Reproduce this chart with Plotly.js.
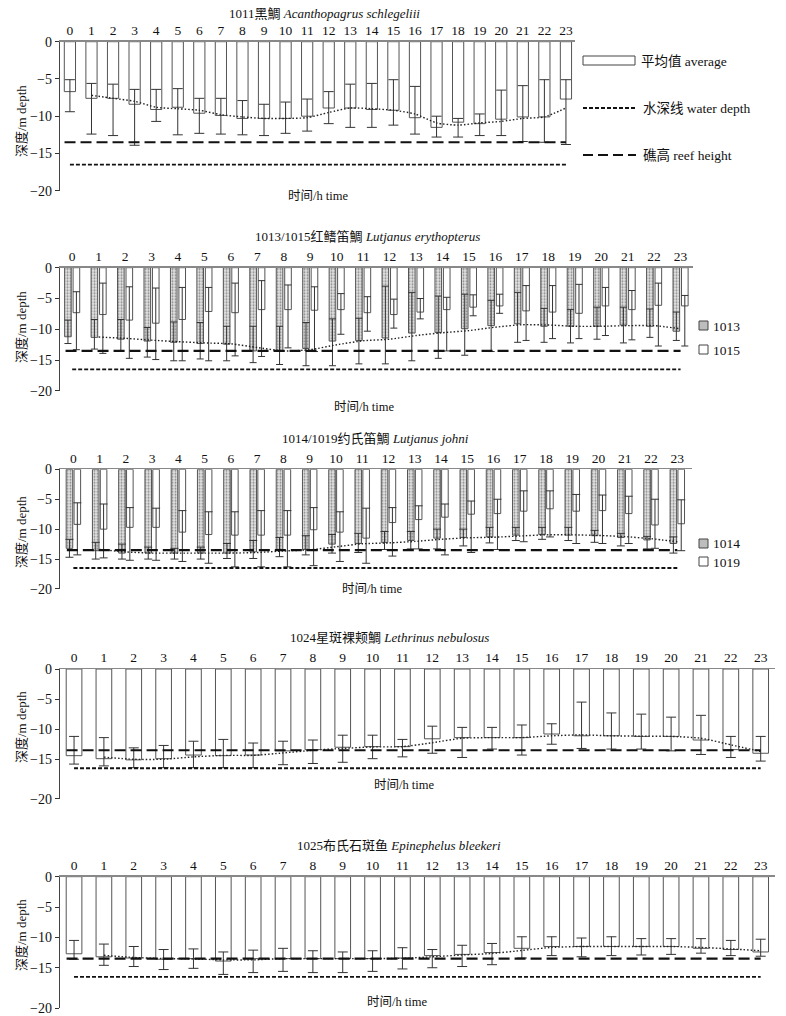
<!DOCTYPE html>
<html><head><meta charset="utf-8">
<script src="https://cdn.plot.ly/plotly-3.0.1.min.js"></script>
<style>html,body{margin:0;padding:0;background:#fff}</style>
</head><body><div id="chart" style="width:786px;height:1016px"></div>
<script>
// ---------------- data ----------------
const hours = [0,1,2,3,4,5,6,7,8,9,10,11,12,13,14,15,16,17,18,19,20,21,22,23];
const hourLabels = ['0','1','2','3','4','5','6','7','8','9','10','11','12','13','14','15','16','17','18','19','20','21','22','23'];
const trendHours = [1,2,3,4,5,6,7,8,9,10,11,12,13,14,15,16,17,18,19,20,21,22,23];
const REEF = -13.5;   // 礁高 reef height
const WATER = -16.5;  // 水深线 water depth

// 1011
const mean1011 = [-6.7,-7.6,-7.6,-8.4,-9.1,-8.8,-9.6,-9.9,-10.3,-10.3,-10.3,-10.0,-8.9,-8.9,-9.1,-9.2,-10.2,-11.5,-10.8,-11.0,-10.4,-10.1,-10.1,-7.7];
const hi1011   = [-5.1,-5.6,-5.7,-6.4,-6.4,-6.3,-7.6,-7.6,-7.9,-8.4,-8.1,-7.7,-6.7,-5.7,-5.6,-5.1,-6.0,-10.0,-10.3,-9.7,-6.5,-5.9,-5.1,-5.1];
const lo1011   = [-9.4,-12.4,-12.6,-13.9,-10.7,-12.5,-12.3,-12.4,-12.5,-12.6,-12.3,-12.0,-11.0,-11.5,-11.5,-11.2,-12.4,-12.8,-12.8,-12.6,-12.6,-13.4,-13.5,-13.8];
const trend1011 = [-7.2,-7.6,-8.0,-8.8,-9.0,-9.2,-9.8,-10.1,-10.3,-10.3,-10.2,-9.5,-8.9,-9.0,-9.2,-9.7,-10.9,-11.2,-10.9,-10.7,-10.3,-10.1,-8.9];

// 1013 / 1015
const mean1013 = [-11.2,-11.3,-11.6,-11.9,-12.1,-12.3,-12.4,-13.5,-13.5,-13.1,-11.9,-11.8,-11.4,-10.6,-10.5,-9.9,-9.4,-9.1,-9.5,-9.5,-9.5,-9.3,-9.5,-10.3];
const hi1013   = [-8.5,-8.4,-8.4,-9.7,-8.8,-8.9,-9.5,-9.5,-9.5,-8.9,-8.3,-8.2,-3.0,-4.0,-4.6,-4.3,-5.3,-4.0,-6.6,-6.8,-6.4,-6.4,-6.7,-7.2];
const lo1013   = [-12.3,-13.2,-13.5,-14.5,-15.1,-14.8,-15.1,-15.4,-15.7,-15.9,-15.9,-15.6,-15.6,-15.1,-14.7,-14.2,-13.6,-12.1,-12.1,-12.2,-11.6,-12.2,-11.3,-11.8];
const mean1015 = [-7.3,-7.6,-8.5,-9.0,-8.4,-7.1,-7.3,-6.8,-6.8,-6.9,-6.8,-7.3,-7.6,-7.2,-6.8,-6.4,-6.2,-7.0,-7.2,-7.4,-6.2,-6.8,-6.1,-6.2];
const hi1015   = [-3.9,-2.5,-3.1,-3.3,-3.2,-3.2,-2.5,-2.1,-2.8,-3.1,-4.2,-4.7,-5.1,-5.0,-4.8,-4.4,-4.3,-2.9,-2.9,-2.7,-3.2,-3.7,-2.5,-4.5];
const lo1015   = [-13.3,-13.9,-14.7,-14.9,-15.1,-15.1,-14.3,-14.4,-13.0,-13.6,-10.8,-10.3,-9.8,-8.3,-13.5,-7.8,-7.4,-11.8,-11.5,-11.5,-11.0,-11.7,-12.7,-12.7];
const trend1013 = [-11.25,-11.45,-11.75,-12.0,-12.2,-12.35,-12.95,-13.5,-13.3,-12.5,-11.85,-11.6,-11.0,-10.55,-10.2,-9.65,-9.25,-9.3,-9.5,-9.5,-9.4,-9.4,-9.9];

// 1014 / 1019
const mean1014 = [-13.2,-13.6,-14.0,-14.0,-14.0,-14.0,-14.0,-13.8,-13.5,-13.4,-12.5,-12.4,-12.2,-11.9,-11.5,-11.4,-11.3,-11.0,-10.9,-11.0,-11.1,-11.4,-11.8,-12.4];
const hi1014   = [-11.7,-12.2,-12.5,-13.0,-13.2,-13.0,-12.4,-11.9,-11.4,-11.1,-10.9,-10.7,-10.4,-10.4,-10.0,-10.0,-9.7,-9.7,-9.7,-9.7,-10.2,-10.7,-11.2,-11.3];
const lo1014   = [-14.7,-15.0,-15.0,-15.0,-15.0,-15.0,-14.9,-14.9,-14.6,-14.3,-14.0,-13.9,-13.4,-13.3,-13.3,-12.8,-12.3,-11.9,-11.7,-11.9,-12.2,-12.8,-13.3,-14.0];
const mean1019 = [-9.2,-10.0,-9.7,-9.7,-10.5,-10.9,-11.0,-11.0,-11.0,-10.1,-10.5,-11.5,-8.9,-8.4,-8.0,-7.5,-7.4,-7.0,-6.6,-7.0,-6.9,-7.4,-9.3,-9.1];
const hi1019   = [-5.6,-5.8,-6.4,-6.5,-6.9,-7.1,-7.1,-6.9,-6.9,-6.4,-7.1,-6.5,-6.4,-6.1,-5.8,-5.3,-5.0,-3.6,-3.6,-4.2,-4.3,-4.5,-5.0,-5.1];
const lo1019   = [-14.3,-14.8,-15.2,-15.2,-15.4,-15.7,-16.3,-16.3,-16.3,-16.1,-15.4,-15.7,-14.5,-13.3,-14.3,-13.9,-13.4,-12.1,-11.3,-12.4,-12.4,-12.4,-13.2,-13.6];
const trend1014 = [-13.4,-13.8,-14.0,-14.0,-14.0,-14.0,-13.9,-13.65,-13.45,-12.95,-12.45,-12.3,-12.05,-11.7,-11.45,-11.35,-11.15,-10.95,-10.95,-11.05,-11.25,-11.6,-12.1];

// 1024
const mean1024 = [-14.4,-14.9,-15.1,-14.9,-14.3,-14.4,-14.3,-13.6,-13.4,-13.0,-12.9,-12.9,-11.6,-11.4,-11.4,-11.4,-10.8,-11.1,-11.1,-11.2,-11.2,-11.8,-13.4,-14.0];
const hi1024   = [-11.2,-11.4,-13.1,-12.7,-12.0,-11.7,-12.3,-12.0,-11.8,-11.0,-11.0,-11.7,-9.5,-9.7,-9.7,-9.3,-9.1,-5.5,-7.3,-7.5,-8.0,-7.7,-11.2,-11.2];
const lo1024   = [-15.8,-16.1,-16.4,-16.4,-16.4,-16.4,-16.4,-15.9,-15.7,-15.5,-14.9,-14.6,-14.0,-14.7,-13.3,-14.3,-12.5,-13.2,-13.3,-13.3,-13.6,-14.2,-14.7,-15.3];
const trend1024 = [-14.65,-15.0,-15.0,-14.6,-14.35,-14.35,-13.95,-13.5,-13.2,-12.95,-12.9,-12.25,-11.5,-11.4,-11.4,-11.1,-10.95,-11.1,-11.15,-11.2,-11.5,-12.6,-13.7];

// 1025
const mean1025 = [-12.7,-13.2,-13.4,-13.6,-13.5,-13.9,-13.5,-13.5,-13.5,-13.5,-13.5,-13.4,-13.0,-12.8,-12.5,-11.8,-11.5,-11.5,-11.5,-11.5,-11.5,-11.8,-12.0,-12.4];
const hi1025   = [-10.5,-11.1,-11.5,-12.0,-11.9,-12.4,-12.1,-11.8,-12.2,-12.4,-12.2,-11.7,-12.0,-11.3,-11.0,-9.9,-9.9,-10.1,-9.9,-10.2,-10.2,-10.2,-10.5,-10.3];
const lo1025   = [-13.6,-14.6,-14.8,-15.3,-15.1,-16.1,-15.8,-15.6,-15.8,-15.8,-15.6,-15.2,-15.0,-14.8,-14.5,-13.4,-13.0,-13.2,-13.0,-12.9,-12.8,-12.6,-13.0,-13.1];
const trend1025 = [-12.95,-13.3,-13.5,-13.55,-13.7,-13.7,-13.5,-13.5,-13.5,-13.5,-13.45,-13.2,-12.9,-12.65,-12.15,-11.65,-11.5,-11.5,-11.5,-11.5,-11.65,-11.9,-12.2];

const titles = [
  '1011黑鯛 <i>Acanthopagrus schlegeliii</i>',
  '1013/1015红鳍笛鯛 <i>Lutjanus erythopterus</i>',
  '1014/1019约氏笛鯛 <i>Lutjanus johni</i>',
  '1024星斑裸颊鯛 <i>Lethrinus nebulosus</i>',
  '1025布氏石斑鱼 <i>Epinephelus bleekeri</i>'
];
const yTickText = ['0','−5','−10','−15','−20'];

// ---------------- layout helpers ----------------
const W = 786, H = 1016;
const FONT = '"Liberation Serif", "Times New Roman", "Noto Sans CJK SC", serif';
const px = v => v / W;
const py = v => 1 - v / H;

const PLAIN = {color:'#ffffff', line:{color:'#555', width:1}};
const HATCH = {color:'#d0d0d0', line:{color:'#555', width:1},
  pattern:{shape:'.', size:3, solidity:0.35, fgcolor:'#888', bgcolor:'#e4e4e4'}};

const panels = [
  {series:[{mean:mean1011,hi:hi1011,lo:lo1011,m:PLAIN,off:-0.26,w:0.52}], trend:trend1011, cap:5,
   box:[60,575,41.7,190.7], xr:[-0.46,23.42], yb:-20,
   titleXY:[324,14], timeXY:[318,196], depthXY:[21,121]},
  {series:[{mean:mean1013,hi:hi1013,lo:lo1013,m:HATCH,off:-0.285,w:0.25},
           {mean:mean1015,hi:hi1015,lo:lo1015,m:PLAIN,off:0.035,w:0.25}], trend:trend1013, cap:3.5,
   box:[60,693,267.7,391], xr:[-0.46,23.47], yb:-20,
   titleXY:[367,236], timeXY:[364,407], depthXY:[21,327]},
  {series:[{mean:mean1014,hi:hi1014,lo:lo1014,m:HATCH,off:-0.275,w:0.25},
           {mean:mean1019,hi:hi1019,lo:lo1019,m:PLAIN,off:0.025,w:0.25}], trend:trend1014, cap:4,
   box:[60,692,469.3,589], xr:[-0.51,23.56], yb:-20,
   titleXY:[375,438], timeXY:[372,589], depthXY:[21,532]},
  {series:[{mean:mean1024,hi:hi1024,lo:lo1024,m:PLAIN,off:-0.262,w:0.525}], trend:trend1024, cap:5,
   box:[60,775,669,799], xr:[-0.47,23.48], yb:-21.6,
   titleXY:[389,637], timeXY:[404,785], depthXY:[21,727]},
  {series:[{mean:mean1025,hi:hi1025,lo:lo1025,m:PLAIN,off:-0.262,w:0.525}], trend:trend1025, cap:5,
   box:[60,775,876.7,1008.4], xr:[-0.47,23.48], yb:-21.7,
   titleXY:[399,845], timeXY:[397,1002], depthXY:[21,935]}
];

const data = [];
const layout = {
  width: W, height: H, margin:{l:0,r:0,t:0,b:0},
  paper_bgcolor:'#fff', plot_bgcolor:'rgba(0,0,0,0)',
  barmode:'overlay', showlegend:false,
  font:{family:FONT, size:13, color:'#111'},
  annotations:[], shapes:[]
};

panels.forEach((p, i) => {
  const s = i === 0 ? '' : String(i + 1);
  const xa = 'x' + s, ya = 'y' + s;
  p.series.forEach(se => {
    data.push({
      type:'bar', x:hours, y:se.mean, base:0, offset:se.off, width:se.w,
      marker:se.m, xaxis:xa, yaxis:ya, hoverinfo:'y',
      error_y:{type:'data', symmetric:false,
        array: se.hi.map((v,k)=> +(v - se.mean[k]).toFixed(2)),
        arrayminus: se.lo.map((v,k)=> +(se.mean[k] - v).toFixed(2)),
        color:'#333', thickness:1, width:p.cap}
    });
  });
  data.push({type:'scatter', mode:'lines', x:trendHours, y:p.trend, xaxis:xa, yaxis:ya,
    line:{color:'#222', width:1.4, dash:'1.5px,2px', shape:'spline', smoothing:0.6}, hoverinfo:'skip'});
  data.push({type:'scatter', mode:'lines', x:[hours[0]-0.25, hours[hours.length-1]], y:[REEF, REEF],
    xaxis:xa, yaxis:ya, line:{color:'#111', width:2.2, dash:'11px,5px'}, hoverinfo:'skip'});
  data.push({type:'scatter', mode:'lines', x:[hours[0], hours[hours.length-1]], y:[WATER, WATER],
    xaxis:xa, yaxis:ya, line:{color:'#111', width:1.9, dash:'4px,2px'}, hoverinfo:'skip'});

  const [x0,x1,y0,y1] = p.box;
  layout['xaxis' + s] = {
    domain:[px(x0), px(x1)], anchor:ya, side:'top', range:p.xr,
    tickvals:hours, ticktext:hourLabels, ticks:'', showline:true, linecolor:'#888', linewidth:1.3,
    showgrid:false, zeroline:false, tickfont:{family:FONT, size:13.5, color:'#111'}, fixedrange:true
  };
  layout['yaxis' + s] = {
    domain:[py(y1), py(y0)], anchor:xa, range:[p.yb, 0],
    tickvals:[0,-5,-10,-15,p.yb + 0.01], ticktext:yTickText, ticklabeloverflow:'allow',
    ticks:'outside', ticklen:4, tickcolor:'#333', showline:true, linecolor:'#444', linewidth:1.2,
    showgrid:false, zeroline:false, tickfont:{family:FONT, size:14, color:'#111'}, fixedrange:true
  };
  layout.annotations.push({xref:'paper', yref:'paper', x:px(p.titleXY[0]), y:py(p.titleXY[1]),
    text:titles[i], showarrow:false, xanchor:'center', yanchor:'middle', font:{family:FONT, size:13, color:'#111'}});
  layout.annotations.push({xref:'paper', yref:'paper', x:px(p.timeXY[0]), y:py(p.timeXY[1]),
    text:'时间/h time', showarrow:false, xanchor:'center', yanchor:'middle', font:{family:FONT, size:12.5, color:'#111'}});
  layout.annotations.push({xref:'paper', yref:'paper', x:px(p.depthXY[0]), y:py(p.depthXY[1]),
    text:'深度/m depth', textangle:-90, showarrow:false, xanchor:'center', yanchor:'middle', font:{family:FONT, size:13, color:'#111'}});
});

// ---------------- legends (drawn as decorations) ----------------
function legText(x, y, t) {
  layout.annotations.push({xref:'paper', yref:'paper', x:px(x), y:py(y), text:t, showarrow:false,
    xanchor:'left', yanchor:'middle', font:{family:FONT, size:13.5, color:'#111'}});
}
function legRect(x0, y0, x1, y1, fill) {
  layout.shapes.push({type:'rect', xref:'paper', yref:'paper', x0:px(x0), x1:px(x1), y0:py(y1), y1:py(y0),
    fillcolor:fill, line:{color:'#444', width:1}});
}
function legLine(x0, x1, y, w, dash) {
  layout.shapes.push({type:'line', xref:'paper', yref:'paper', x0:px(x0), x1:px(x1), y0:py(y), y1:py(y),
    line:{color:'#111', width:w, dash:dash}});
}
legRect(583, 56, 635, 65, '#fff');        legText(639, 61, '平均值 average');
legLine(583, 636, 108, 1.9, '4px,2px');   legText(641, 108, '水深线 water depth');
legLine(583, 636, 155, 2.2, '10px,5px');  legText(641, 155, '礁高 reef height');
legRect(699, 321, 708, 330, '#bdbdbd');   legText(711, 326, '1013');
legRect(699, 345, 708, 354, '#fff');      legText(711, 350, '1015');
legRect(699, 539, 708, 548, '#bdbdbd');   legText(711, 543, '1014');
legRect(699, 557, 708, 566, '#fff');      legText(711, 562, '1019');

Plotly.newPlot('chart', data, layout, {displayModeBar:false, staticPlot:true});
</script>
</body></html>
